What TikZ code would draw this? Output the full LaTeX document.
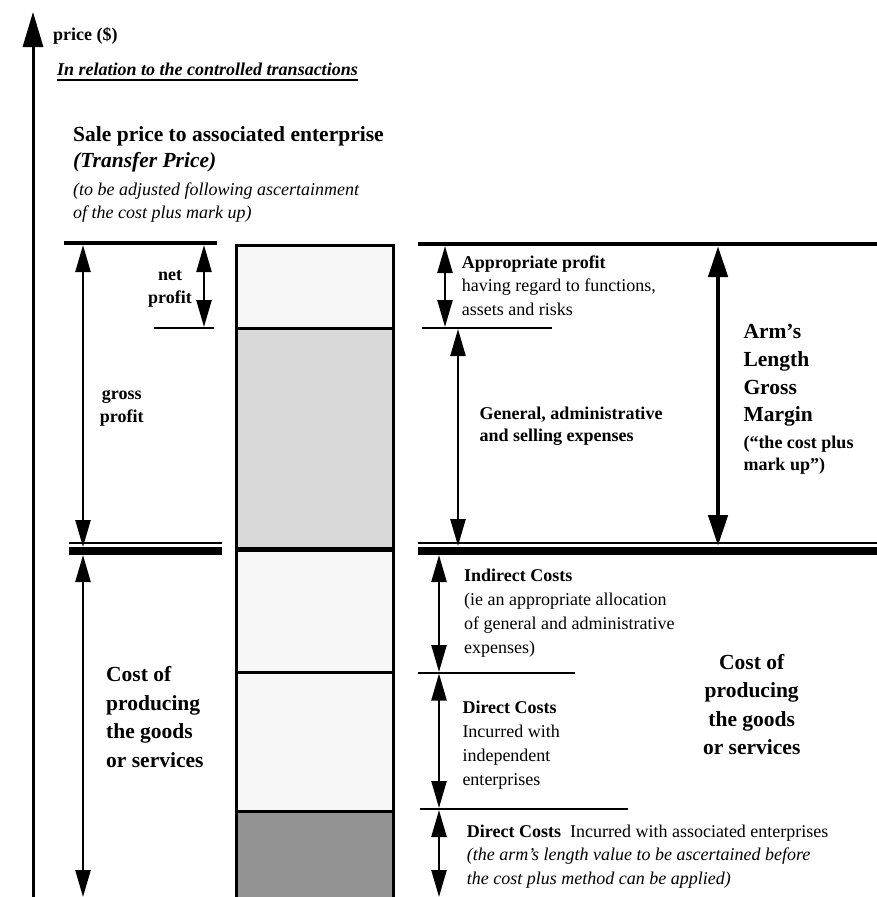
\documentclass[tikz,border=0pt]{standalone}
\usepackage{fontspec}
\setmainfont{Liberation Serif}
\usetikzlibrary{arrows.meta,positioning}
\definecolor{boxLight}{HTML}{F6F7F6}
\definecolor{boxMid}{HTML}{D9D9D9}
\definecolor{boxDark}{HTML}{939393}
\newcommand{\smallTxt}{\fontsize{18}{23.5}\selectfont}
\newcommand{\bigTxt}{\fontsize{21.5}{28.5}\selectfont}
\tikzset{
  lbl/.style={inner sep=0pt, anchor=base west, align=left, font=\smallTxt},
  dimarrow/.style={line width=2.4pt, {Triangle[length=27pt,width=15pt]}-{Triangle[length=27pt,width=15pt]}},
  bigarrow/.style={line width=4.5pt, {Triangle[length=31pt,width=19pt]}-{Triangle[length=31pt,width=19pt]}},
  level/.style={line width=4.5pt},
  tick/.style={line width=2.4pt},
  stack/.style={draw, line width=3pt}
}

\begin{document}
\begin{tikzpicture}[x=1pt,y=-1pt]
  \useasboundingbox[fill=white] (0,0) rectangle (877,897);
  % price axis
  \coordinate (axisB) at (33,900);
  \coordinate (axisT) at (33,12);
  \draw[line width=3pt,-{Triangle[length=35pt,width=20pt]}] (axisB) -- (axisT);
  \node[lbl,font=\smallTxt\bfseries] (price) at (53,40) {price (\$)};
  \node[lbl,font=\smallTxt\bfseries\itshape] (rel) at (57,75) {In relation to the controlled transactions};
  \draw[line width=2pt] ([yshift=-5pt]rel.base west) -- ([yshift=-5pt]rel.base east);
  % multi-line labels sit on the baseline of their last line
  \node[lbl,font=\fontsize{21.5}{26}\selectfont\bfseries] (sale) at (73,167.7) {Sale price to associated enterprise\\\textit{(Transfer Price)}};
  \node[lbl,font=\fontsize{18}{23}\selectfont\itshape] (adj) at (73,218) {(to be adjusted following ascertainment\\of the cost plus mark up)};

  % the stacked column
  \draw[stack,fill=boxLight] (236,245) rectangle (393,328);
  \draw[stack,fill=boxMid] (236,328) rectangle (393,548);
  \draw[stack,fill=boxLight] (236,550.5) rectangle (393,672.5);
  \draw[stack,fill=boxLight] (236,672.5) rectangle (393,811);
  \draw[stack,fill=boxDark] (236,811) rectangle (393,905);

  % left side levels
  \coordinate (topLa) at (64,243);   \coordinate (topLb) at (217,243);
  \coordinate (npLa) at (154,328);   \coordinate (npLb) at (214,328);
  \coordinate (cutLa) at (69,551);   \coordinate (cutLb) at (222,551);
  \draw[level] (topLa) -- (topLb);
  \draw[tick] (npLa) -- (npLb);
  \draw[line width=1.5pt] ([yshift=8pt]cutLa) -- ([yshift=8pt]cutLb);
  \draw[line width=8pt] (cutLa) -- (cutLb);% double line at cost level
  \coordinate (gpT) at (83,245);  \coordinate (gpB) at (83,547);
  \coordinate (npT) at (204,245); \coordinate (npB) at (204,327);
  \coordinate (cpT) at (83,555);  \coordinate (cpB) at (83,897);
  \draw[dimarrow] (gpT) -- (gpB);
  \draw[dimarrow] (npT) -- (npB);
  \draw[dimarrow] (cpT) -- (cpB);
  \node[lbl,anchor=base,align=center,font=\smallTxt\bfseries] (net) at (170,303.5) {net\\profit};
  \node[lbl,anchor=base,align=center,font=\smallTxt\bfseries] (gross) at (121.7,422.7) {gross\\profit};
  \node[lbl,font=\bigTxt\bfseries] (costL) at (106,767.3) {Cost of\\producing\\the goods\\or services};

  % right side levels
  \coordinate (topRa) at (418,244);  \coordinate (topRb) at (877,244);
  \coordinate (apRa) at (422,327.7); \coordinate (apRb) at (552,327.7);
  \coordinate (cutRa) at (418,551);  \coordinate (cutRb) at (877,551);
  \coordinate (inRa) at (418,672.7); \coordinate (inRb) at (575,672.7);
  \coordinate (drRa) at (420,809);   \coordinate (drRb) at (628,809);
  \draw[level] (topRa) -- (topRb);
  \draw[tick] (apRa) -- (apRb);
  \draw[line width=1.5pt] ([yshift=8pt]cutRa) -- ([yshift=8pt]cutRb);
  \draw[line width=8pt] (cutRa) -- (cutRb);
  \draw[tick] (inRa) -- (inRb);
  \draw[tick] (drRa) -- (drRb);
  \coordinate (apT) at (445,246);   \coordinate (apB) at (445,327);
  \coordinate (geT) at (458,329);   \coordinate (geB) at (458,546);
  \coordinate (amT) at (718,246);   \coordinate (amB) at (718,546);
  \coordinate (icT) at (439,555);   \coordinate (icB) at (439,672);
  \coordinate (dcT) at (439,673.5); \coordinate (dcB) at (439,808);
  \coordinate (daT) at (439,810);   \coordinate (daB) at (439,897);
  \draw[dimarrow] (apT) -- (apB);
  \draw[dimarrow] (geT) -- (geB);
  \draw[bigarrow] (amT) -- (amB);
  \draw[dimarrow] (icT) -- (icB);
  \draw[dimarrow] (dcT) -- (dcB);
  \draw[dimarrow] (daT) -- (daB);

  \node[lbl] (approp) at (461.7,315) {\textbf{Appropriate profit}\\having regard to functions,\\assets and risks};
  \node[lbl,font=\fontsize{18}{22}\selectfont\bfseries] (genexp) at (479.3,441.7) {General, administrative\\and selling expenses};
  \node[lbl,font=\fontsize{21.5}{27.7}\selectfont\bfseries] (arm) at (743.3,421.7) {Arm’s\\Length\\Gross\\Margin};
  \node[lbl,font=\fontsize{18}{22.5}\selectfont\bfseries] (markup) at (743.3,470.7) {(“the cost plus\\mark up”)};
  \node[lbl,font=\fontsize{18}{24}\selectfont] (indir) at (464,653.3) {\textbf{Indirect Costs}\\(ie an appropriate allocation\\of general and administrative\\expenses)};
  \node[lbl,font=\fontsize{18}{24}\selectfont] (direct) at (462.3,785) {\textbf{Direct Costs}\\Incurred with\\independent\\enterprises};
  \node[lbl] (assoc) at (466.7,884.3) {\textbf{Direct Costs}\ \ Incurred with associated enterprises\\\textit{(the arm’s length value to be ascertained before}\\\textit{the cost plus method can be applied)}};
  \node[lbl,anchor=base,align=center,font=\fontsize{21.5}{28.3}\selectfont\bfseries] (costR) at (751.7,754.3) {Cost of\\producing\\the goods\\or services};
\end{tikzpicture}
\end{document}
